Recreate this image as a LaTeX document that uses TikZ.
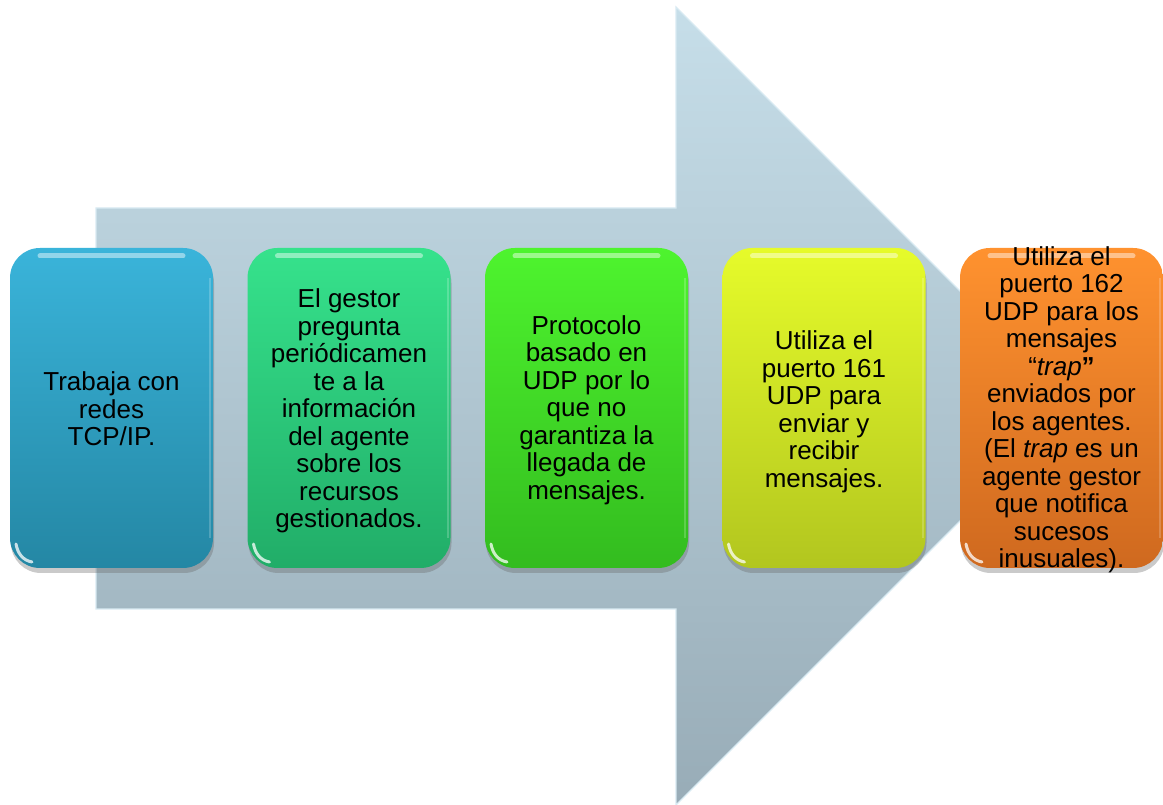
\documentclass[tikz,border=0pt]{standalone}
\usepackage{fontspec}
\setmainfont{Liberation Sans}
\usetikzlibrary{shadows}
\definecolor{arrtop}{HTML}{C6DEE9}
\definecolor{arrbot}{HTML}{98ACB7}
\definecolor{arredge}{HTML}{D8EAF2}
\definecolor{bAt}{HTML}{3AB4DA}\definecolor{bAb}{HTML}{2487A4}
\definecolor{bBt}{HTML}{36E28C}\definecolor{bBb}{HTML}{21AD68}
\definecolor{bCt}{HTML}{4EF42E}\definecolor{bCb}{HTML}{33BC1F}
\definecolor{bDt}{HTML}{E6FB2A}\definecolor{bDb}{HTML}{B2C61F}
\definecolor{bEt}{HTML}{FF922F}\definecolor{bEb}{HTML}{CF691F}
\tikzset{
  x=1pt,y=1pt,
  gbox/.style={rounded corners=30pt, minimum width=203pt, minimum height=320pt,
    inner sep=0pt, draw=none,
    drop shadow={shadow xshift=1pt, shadow yshift=-5pt, opacity=0.35, fill=black!60},
    path picture={
      \draw[white, opacity=0.45, line width=5pt, line cap=round]
        ([xshift=30pt,yshift=-8pt]path picture bounding box.north west) --
        ([xshift=-30pt,yshift=-8pt]path picture bounding box.north east);
      \draw[white, opacity=0.75, line width=3pt, line cap=round]
        ([xshift=6pt,yshift=24pt]path picture bounding box.south west)
        to[out=-80,in=170] ([xshift=22pt,yshift=6pt]path picture bounding box.south west);
      \draw[white, opacity=0.2, line width=2pt]
        ([xshift=-3pt,yshift=-30pt]path picture bounding box.north east) --
        ([xshift=-3pt,yshift=30pt]path picture bounding box.south east);
    }},
  txt/.style={align=center, font=\fontsize{26}{27.5}\selectfont, text=black, inner sep=0pt},
}
\begin{document}
\begin{tikzpicture}
\useasboundingbox (0,0) rectangle (1163,805);
% big arrow
\shade[top color=arrtop, bottom color=arrbot, draw=arredge, line width=1.2pt]
  (96,597) -- (676,597) -- (676,798) -- (1075,399) -- (676,0) -- (676,196) -- (96,196) -- cycle;
% boxes
\node[gbox, top color=bAt, bottom color=bAb] (b1) at (111.5,397) {};
\node[gbox, top color=bBt, bottom color=bBb] (b2) at (349,397) {};
\node[gbox, top color=bCt, bottom color=bCb] (b3) at (586.5,397) {};
\node[gbox, top color=bDt, bottom color=bDb] (b4) at (824,397) {};
\node[gbox, top color=bEt, bottom color=bEb] (b5) at (1061.5,397) {};
% texts
\node[txt] (t1) at ([yshift=-1pt]b1.center) {Trabaja con\\redes\\TCP/IP.};
\node[txt] (t2) at ([yshift=-3pt]b2.center) {El gestor\\pregunta\\periódicamen\\te a la\\información\\del agente\\sobre los\\recursos\\gestionados.};
\node[txt] (t3) at ([yshift=-2pt]b3.center) {Protocolo\\basado en\\UDP por lo\\que no\\garantiza la\\llegada de\\mensajes.};
\node[txt] (t4) at ([yshift=-4pt]b4.center) {Utiliza el\\puerto 161\\UDP para\\enviar y\\recibir\\mensajes.};
\node[txt] (t5) at ([yshift=-2pt]b5.center) {Utiliza el\\puerto 162\\UDP para los\\mensajes\\“\textit{trap}\textbf{”}\\enviados por\\los agentes.\\(El \textit{trap} es un\\agente gestor\\que notifica\\sucesos\\inusuales).};
\end{tikzpicture}
\end{document}
